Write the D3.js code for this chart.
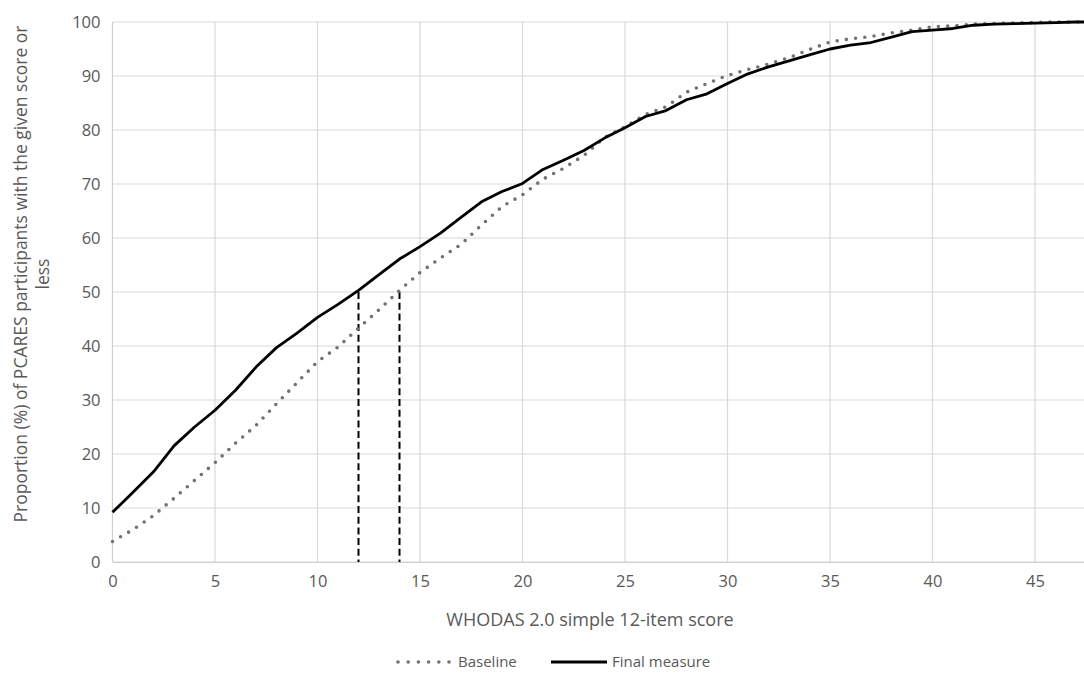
<!DOCTYPE html>
<html>
<head>
<meta charset="utf-8">
<script src="https://cdn.jsdelivr.net/npm/d3@7"></script>
<style>
  body { margin: 0; background: #fff; }
  text { font-family: "Open Sans", sans-serif; fill: #595959; }
</style>
</head>
<body>
<div id="chart"></div>
<script>
// Chart data
var scores = [0, 1, 2, 3, 4, 5, 6, 7, 8, 9, 10, 11, 12, 13, 14, 15, 16, 17, 18, 19, 20, 21, 22, 23, 24,
  25, 26, 27, 28, 29, 30, 31, 32, 33, 34, 35, 36, 37, 38, 39, 40, 41, 42, 43, 44, 45, 46, 47, 48];
var baseline = [3.8, 6.0, 8.6, 11.8, 15.1, 18.4, 22.0, 25.3, 29.3, 33.2, 37.1, 39.8, 43.3, 46.7, 50.3, 53.6,
  56.3, 58.8, 62.4, 65.8, 68.0, 70.9, 72.9, 75.3, 78.6, 80.6, 82.9, 84.3, 87.0, 88.6, 90.1, 91.2, 92.2, 93.4,
  94.9, 96.3, 96.9, 97.3, 98.0, 98.5, 99.1, 99.3, 99.6, 99.7, 99.8, 99.9, 100, 100, 100];
var finalMeasure = [9.2, 12.9, 16.7, 21.5, 25.0, 28.1, 31.8, 36.1, 39.7, 42.4, 45.3, 47.7, 50.3, 53.2, 56.1,
  58.4, 60.9, 63.8, 66.7, 68.6, 70.1, 72.7, 74.4, 76.2, 78.5, 80.4, 82.5, 83.6, 85.6, 86.7, 88.6, 90.4, 91.7,
  92.8, 93.9, 95.0, 95.7, 96.2, 97.2, 98.2, 98.5, 98.8, 99.4, 99.6, 99.7, 99.8, 99.9, 100, 100];
var xTicks = [0, 5, 10, 15, 20, 25, 30, 35, 40, 45];
var yTicks = [0, 10, 20, 30, 40, 50, 60, 70, 80, 90, 100];
var medianScores = [12, 14];
var medianLevel = 50;
var seriesNames = ["Baseline", "Final measure"];

// Chart params
var svgWidth = 1084;
var svgHeight = 683;
var plotLeft = 112.5, plotTop = 22, plotBottom = 562;

var svg = d3.select("#chart")
  .append("svg")
  .attr("width", svgWidth)
  .attr("height", svgHeight);

// Scales (the plot runs past the right edge of the picture)
var x = d3.scaleLinear()
  .domain([0, 48])
  .range([plotLeft, plotLeft + 48 * 20.5]);

var y = d3.scaleLinear()
  .domain([0, 100])
  .range([plotBottom, plotTop]);

// Gridlines
svg.append("g")
  .selectAll("line")
  .data(yTicks)
  .enter()
  .append("line")
  .attr("x1", plotLeft)
  .attr("x2", svgWidth)
  .attr("y1", d => y(d))
  .attr("y2", d => y(d))
  .attr("stroke", "#d9d9d9")
  .attr("stroke-width", 1.2);

svg.append("g")
  .selectAll("line")
  .data(xTicks)
  .enter()
  .append("line")
  .attr("x1", d => x(d))
  .attr("x2", d => x(d))
  .attr("y1", plotTop)
  .attr("y2", plotBottom)
  .attr("stroke", d => d === 0 ? "#cfcfcf" : "#d9d9d9")
  .attr("stroke-width", 1.2);

// Axes (labels only, Excel style)
var bottomAxis = d3.axisBottom(x).tickValues(xTicks).tickSize(0).tickPadding(13);
var leftAxis = d3.axisLeft(y).tickValues(yTicks).tickSize(0).tickPadding(12);

var gx = svg.append("g")
  .attr("transform", `translate(0, ${plotBottom})`)
  .call(bottomAxis);
gx.select(".domain").attr("stroke", "#d0d0d0").attr("stroke-width", 1.2);

var gy = svg.append("g")
  .attr("transform", `translate(${plotLeft}, 0)`)
  .call(leftAxis);
gy.select(".domain").remove();

svg.selectAll(".tick text")
  .style("font-family", "'Open Sans', sans-serif")
  .style("font-size", "16.5px")
  .attr("fill", "#505050");

// Median reference lines
svg.append("g")
  .selectAll("line")
  .data(medianScores)
  .enter()
  .append("line")
  .attr("x1", d => x(d))
  .attr("x2", d => x(d))
  .attr("y1", y(medianLevel))
  .attr("y2", y(0))
  .attr("stroke", "#000")
  .attr("stroke-width", 2)
  .attr("stroke-dasharray", "7 3.7");

// Lines
var lineGen = d3.line()
  .x((d, i) => x(scores[i]))
  .y(d => y(d));

svg.append("path")
  .datum(baseline)
  .attr("d", lineGen)
  .attr("fill", "none")
  .attr("stroke", "#767171")
  .attr("stroke-width", 3.6)
  .attr("stroke-linecap", "round")
  .attr("stroke-dasharray", "0 9.3");

svg.append("path")
  .datum(finalMeasure)
  .attr("d", lineGen)
  .attr("fill", "none")
  .attr("stroke", "#000")
  .attr("stroke-width", 2.8)
  .attr("stroke-linejoin", "round");

// Axis titles
svg.append("text")
  .attr("text-anchor", "middle")
  .attr("x", 590)
  .attr("y", 626)
  .style("font-size", "18px")
  .text("WHODAS 2.0 simple 12-item score");

var yTitle = svg.append("text")
  .attr("text-anchor", "middle")
  .attr("transform", `translate(27, 274)rotate(-90)`)
  .style("font-size", "17.5px");
yTitle.append("tspan")
  .attr("x", 0)
  .attr("dy", 0)
  .text("Proportion (%) of PCARES participants with the given score or");
yTitle.append("tspan")
  .attr("x", 0)
  .attr("dy", "1.25em")
  .text("less");

// Legend
var legend = svg.append("g");
legend.append("line")
  .attr("x1", 398).attr("x2", 449)
  .attr("y1", 662).attr("y2", 662)
  .attr("stroke", "#767171")
  .attr("stroke-width", 3.6)
  .attr("stroke-linecap", "round")
  .attr("stroke-dasharray", "0 10.2");
legend.append("text")
  .attr("x", 458).attr("y", 667)
  .style("font-size", "15px")
  .text(seriesNames[0]);
legend.append("line")
  .attr("x1", 551).attr("x2", 607)
  .attr("y1", 662).attr("y2", 662)
  .attr("stroke", "#000")
  .attr("stroke-width", 2.8);
legend.append("text")
  .attr("x", 612).attr("y", 667)
  .style("font-size", "15px")
  .text(seriesNames[1]);
</script>
</body>
</html>
